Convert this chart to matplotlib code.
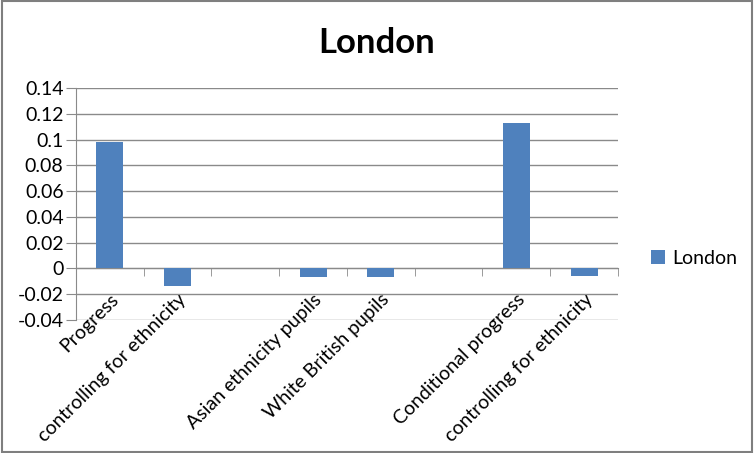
import matplotlib
matplotlib.use("Agg")
import matplotlib.pyplot as plt
from matplotlib.patches import Rectangle
from matplotlib.ticker import FuncFormatter, FixedLocator
import numpy as np

CATEGORIES: list[str] = [
    "Progress",
    "controlling for ethnicity",
    "",
    "Asian ethnicity pupils",
    "White British pupils",
    "",
    "Conditional progress",
    "controlling for ethnicity",
]

LONDON_VALUES: list[float] = [0.098, -0.014, 0.0, -0.007, -0.007, 0.0, 0.113, -0.006]

Y_TICKS: list[float] = [-0.04, -0.02, 0.0, 0.02, 0.04, 0.06, 0.08, 0.10, 0.12, 0.14]

BAR_COLOR = "#4F81BD"
GRID_COLOR = "#8A8A8A"

plt.rcParams["font.family"] = ["Lato", "DejaVu Sans"]


def plot_london() -> None:
    fig = plt.figure(figsize=(7.54, 4.53), dpi=100)
    ax = fig.add_axes([0.1008, 0.2936, 0.8196 - 0.1008, 0.8057 - 0.2936])

    x = np.arange(len(CATEGORIES))
    bars = ax.bar(x, LONDON_VALUES, width=0.4, color=BAR_COLOR, label="London", zorder=3)

    ax.set_xlim(-0.5, len(CATEGORIES) - 0.5)
    ax.set_ylim(Y_TICKS[0], Y_TICKS[-1])
    ax.set_yticks(Y_TICKS)
    ax.yaxis.set_major_formatter(FuncFormatter(lambda v, _: f"{round(v, 2):g}"))
    ax.grid(axis="y", color=GRID_COLOR, linewidth=1.0, zorder=0)

    for side in ["top", "right"]:
        ax.spines[side].set_visible(False)
    ax.spines["left"].set_color(GRID_COLOR)
    ax.spines["bottom"].set_position(("data", 0))
    ax.spines["bottom"].set_color(GRID_COLOR)

    ax.tick_params(axis="y", length=7, color=GRID_COLOR, labelsize=14, pad=2)

    # category labels at centres, tick marks at category boundaries
    ax.set_xticks(x)
    ax.set_xticklabels(CATEGORIES, rotation=45, ha="right", rotation_mode="anchor", fontsize=14)
    ax.tick_params(axis="x", which="major", length=0, pad=16)
    ax.xaxis.set_minor_locator(FixedLocator(np.arange(0.5, len(CATEGORIES), 1.0)))
    ax.tick_params(axis="x", which="minor", length=6, color=GRID_COLOR, direction="out")

    fig.text(0.5, 0.905, "London", ha="center", va="center", fontsize=25, fontweight="bold")

    fig.legend(
        handles=[bars],
        labels=["London"],
        loc="center left",
        bbox_to_anchor=(0.84, 0.43),
        frameon=False,
        fontsize=14,
        handlelength=0.75,
        handleheight=0.75,
        handletextpad=0.35,
    )

    fig.patches.append(
        Rectangle((0.002, 0.003), 0.996, 0.994, transform=fig.transFigure,
                  fill=False, edgecolor="#7F7F7F", linewidth=1.5)
    )

    fig.savefig("out.png", dpi=100)


def main() -> None:
    plot_london()


if __name__ == "__main__":
    main()
